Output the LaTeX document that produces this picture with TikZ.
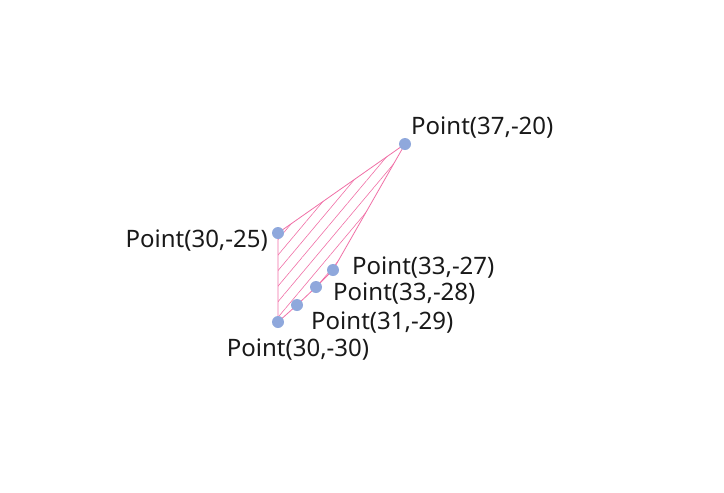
\documentclass[tikz,border=0pt]{standalone}
\usepackage{fontspec}
\setmainfont{Noto Sans}
\usetikzlibrary{patterns.meta}
\definecolor{pinkc}{HTML}{F06FA6}
\definecolor{ptc}{HTML}{8FA8DC}
\begin{document}
\begin{tikzpicture}[x=1pt,y=-1pt,
  pt/.style={circle,fill=ptc,inner sep=0pt,minimum size=12pt},
  lbl/.style={font=\fontsize{24}{26}\selectfont,inner sep=0pt,text=black!90}]
\useasboundingbox (0,0) rectangle (724,493);
\coordinate (a) at (405,144);
\coordinate (b) at (278,233);
\coordinate (c) at (333,270);
\coordinate (d) at (316,287);
\coordinate (e) at (297,305);
\coordinate (f) at (278,322);
\fill[pattern={Lines[angle=50,distance=10pt,line width=0.6pt]},pattern color=pinkc]
  (f) -- (b) -- (a) -- (c) -- (d) -- (e) -- cycle;
\draw[pinkc,line width=0.8pt] (f) -- (b) -- (a) -- (c) -- (d) -- (e) -- cycle;
\node[pt] (pa) at (a) {};\node[pt] (pb) at (b) {};\node[pt] (pc) at (c) {};
\node[pt] (pd) at (d) {};\node[pt] (pe) at (e) {};\node[pt] (pf) at (f) {};
\node[lbl,anchor=west] (la) at (411,128) {Point(37,-20)};
\node[lbl,anchor=east] (lb) at (268,241) {Point(30,-25)};
\node[lbl,anchor=west] (lc) at (352,268) {Point(33,-27)};
\node[lbl,anchor=west] (ld) at (333,294) {Point(33,-28)};
\node[lbl,anchor=west] (le) at (311,323) {Point(31,-29)};
\node[lbl] (lf) at (298,350) {Point(30,-30)};
\end{tikzpicture}
\end{document}
